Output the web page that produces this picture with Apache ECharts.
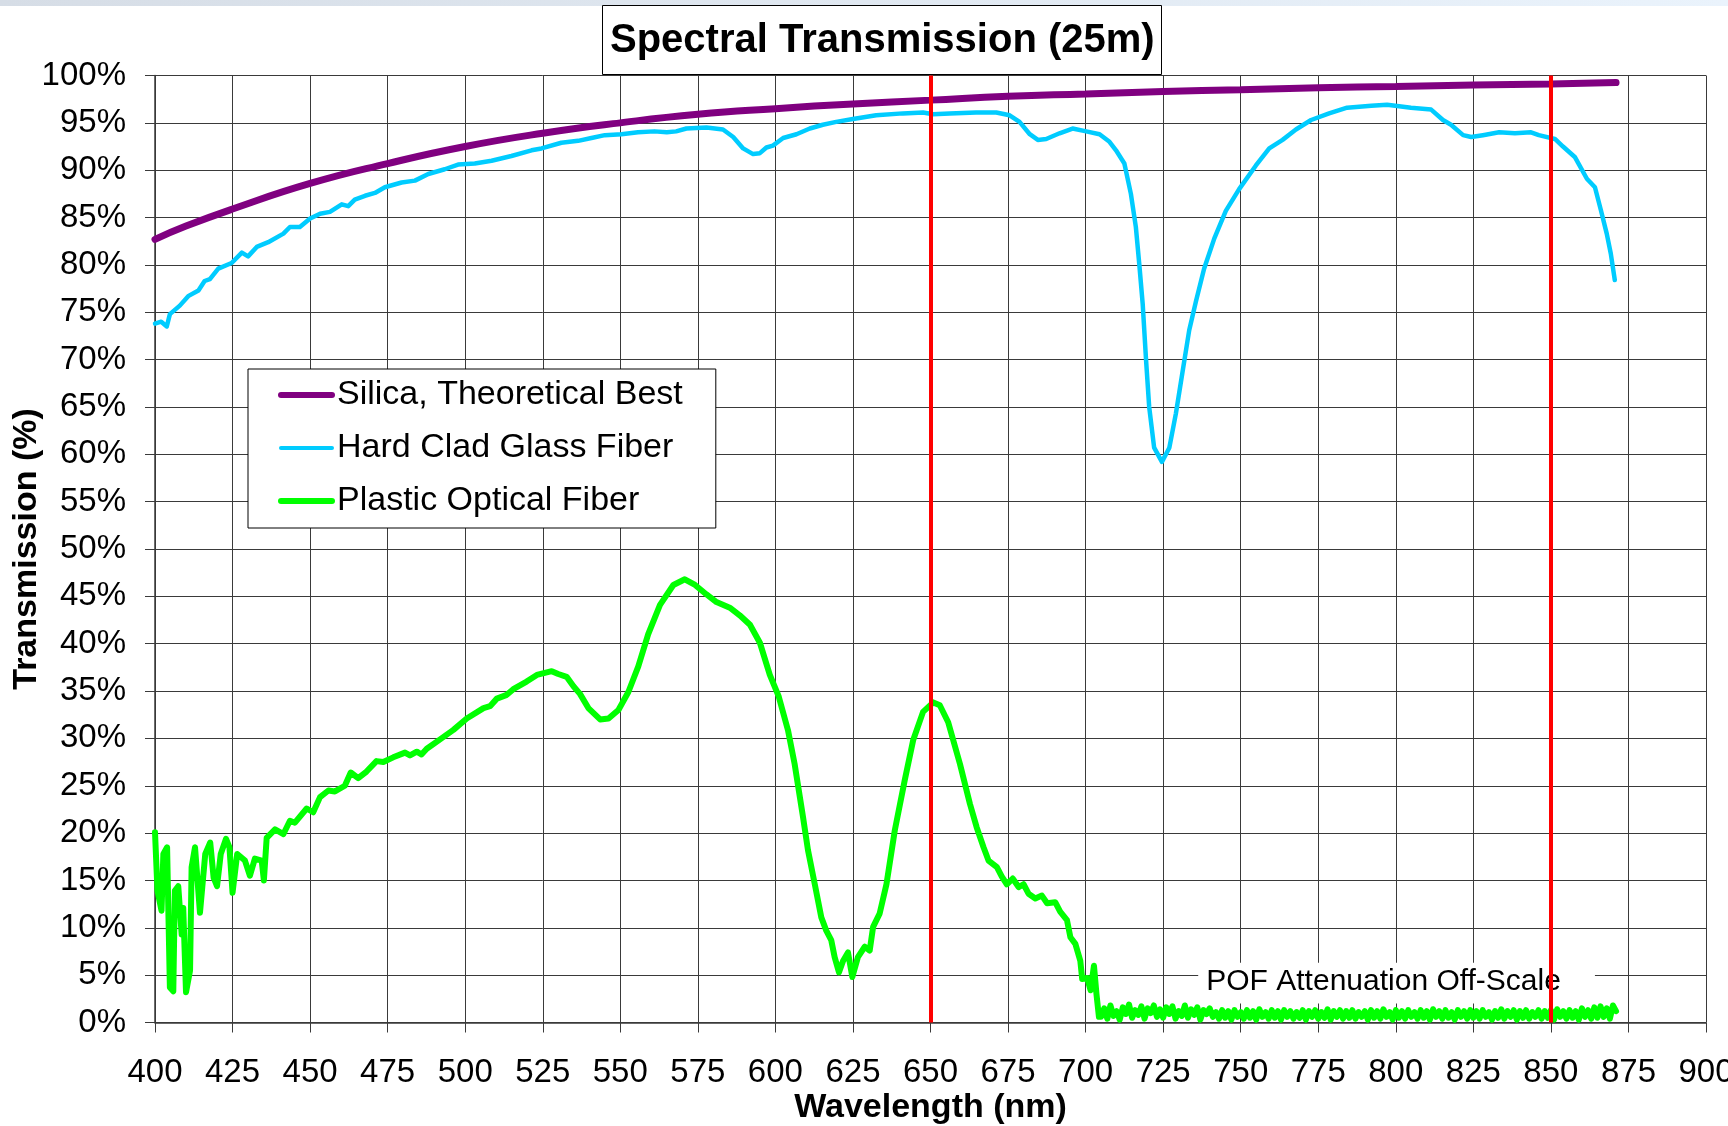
<!DOCTYPE html>
<html lang="en">

<head>
    <meta charset="UTF-8">
    <title>Spectral Transmission (25m)</title>
    <style>
        html, body { margin: 0; padding: 0; background: #fff; }
    </style>
</head>

<body>
    <div id="chart" style="width: 1728px;height:1126px;"></div>
    <script src="https://cdn.jsdelivr.net/npm/echarts@6/dist/echarts.min.js"></script>
    <script type="text/javascript">
       // wavelength (nm) / transmission (%)
       var silicaNm  = [400, 410, 425, 450, 475, 500, 525, 550, 575, 600, 625, 650, 675, 700, 725, 750, 775, 800, 825, 850, 871];
       var silicaPct = [82.7, 84.1, 85.9, 88.6, 90.7, 92.5, 93.9, 95.0, 95.9, 96.5, 97.0, 97.4, 97.8, 98.05, 98.3, 98.5, 98.7, 98.85, 99.0, 99.1, 99.25];

       var hcgNm  = [400, 402, 403.8, 404.8, 408, 410.7, 414, 416, 417.7, 420.4, 424.7, 428, 430, 432.8, 436.5, 441.4, 443.5, 446.7, 450, 453.2,
                     456.4, 460.2, 462.3, 464.4, 467.7, 470.9, 474.1, 479.5, 483.8, 488.1, 493.4, 497.7, 503.1, 508.5, 514.9, 521.4, 524.6, 531, 536.4, 540.7,
                     545, 550.4, 555.7, 561, 565, 568, 571.3, 577.8, 583.1, 586.4, 589.6, 592.8, 595, 597.1, 599.2, 602.5, 606.8, 611.1, 615.3, 619.6,
                     625, 632.5, 641.1, 647.6, 650.8, 656.2, 664.7, 671.2, 675.5, 678.7, 682, 684.6, 687.3, 691.6, 695.8, 700.2, 704.5, 707.7, 709.8, 712.5,
                     714.6, 716.2, 717.3, 718.4, 719.5, 720.5, 722.1, 724.6, 727, 729.1, 731.3, 733.4, 735.6, 738.2, 741.5, 745.2, 749.5, 754.9, 759.2, 763.5,
                     767.8, 772.7, 778.5, 784.3, 792.1, 797.2, 799.8, 804.9, 811.4, 815.2, 817.8, 821.7, 824.3, 828.1, 833.3, 838.4, 843.6, 846.1, 851.3, 853.9,
                     857.7, 861.6, 864.2, 866.1, 868, 869.3, 870.6];
       var hcgPct = [73.8, 74.0, 73.5, 74.8, 75.7, 76.7, 77.3, 78.3, 78.5, 79.6, 80.2, 81.3, 80.9, 81.9, 82.4, 83.3, 84.0, 84.0, 84.9, 85.4,
                     85.6, 86.4, 86.2, 86.9, 87.3, 87.6, 88.2, 88.7, 88.9, 89.6, 90.1, 90.6, 90.7, 91.0, 91.5, 92.1, 92.3, 92.9, 93.1, 93.4,
                     93.7, 93.8, 94.0, 94.1, 94.0, 94.1, 94.4, 94.5, 94.3, 93.5, 92.3, 91.7, 91.8, 92.4, 92.6, 93.4, 93.8, 94.4, 94.8, 95.1,
                     95.4, 95.8, 96.0, 96.1, 95.9, 96.0, 96.1, 96.1, 95.8, 95.1, 93.8, 93.2, 93.3, 93.9, 94.4, 94.1, 93.8, 93.0, 92.1, 90.7,
                     87.5, 84.0, 80.1, 75.9, 69.9, 65.0, 60.7, 59.2, 60.7, 64.3, 68.8, 73.1, 76.2, 79.6, 82.8, 85.7, 88.0, 90.5, 92.3, 93.2,
                     94.3, 95.3, 96.0, 96.6, 96.8, 96.9, 96.8, 96.6, 96.4, 95.3, 94.8, 93.7, 93.5, 93.7, 94.0, 93.9, 94.0, 93.7, 93.3, 92.5,
                     91.4, 89.1, 88.2, 85.8, 83.3, 81.2, 78.4];

       var pofNm  = [400, 400.8, 402.1, 402.7, 403.9, 404.8, 405.9, 406.4, 407.5, 408.6, 409.1, 410, 411.3, 411.8, 412.9, 414.5, 416.2, 417.8, 418.9, 420,
                     421.2, 422.9, 424, 425, 426.5, 429, 430.6, 432.2, 434.4, 435.1, 436, 438.7, 441.4, 443.5, 445.1, 448.9, 451, 453.2, 455.9, 458,
                     461.2, 463.1, 465.5, 468.2, 471.4, 473.6, 476.8, 480.6, 482.2, 484.4, 485.9, 487.6, 491.9, 496.2, 500.5, 505.9, 508, 510.2, 513.4, 515.5,
                     519.8, 523.1, 527.9, 530, 532.7, 534.9, 537, 539.7, 543.5, 546.2, 549.4, 552.6, 555.8, 559, 562.8, 567.1, 570.8, 574.1, 577.8, 581,
                     585.3, 588.5, 591.8, 595, 598.2, 601, 604.1, 606.2, 608.9, 610.5, 612.7, 614.8, 616.4, 618, 619.1, 620.5, 621.8, 623.4, 624.8, 626.6,
                     628.8, 630.4, 631.5, 633.6, 635.8, 638.5, 641.7, 644.4, 647.6, 650.9, 653, 655.7, 659.5, 662.7, 664.9, 667.1, 668.7, 671.4, 673, 674.6,
                     676.5, 678.4, 680, 681.6, 683.8, 685.9, 687.6, 690.2, 691.8, 694, 695.1, 696.7, 698.3, 698.9, 700.5, 701.6, 702.7, 703.5, 704.3];
       var pofPct = [20.1, 13.9, 11.8, 17.8, 18.5, 3.7, 3.3, 13.9, 14.4, 9.3, 12.1, 3.2, 5.5, 16.4, 18.5, 11.6, 17.8, 19.0, 15.3, 14.4,
                     17.8, 19.4, 18.5, 13.7, 17.8, 17.1, 15.5, 17.3, 17.1, 15.0, 19.5, 20.4, 19.9, 21.3, 21.1, 22.6, 22.2, 23.8, 24.5, 24.4,
                     25.0, 26.4, 25.8, 26.5, 27.6, 27.5, 28.0, 28.5, 28.2, 28.6, 28.3, 28.9, 29.9, 30.9, 32.1, 33.2, 33.4, 34.2, 34.6, 35.2,
                     36.0, 36.7, 37.1, 36.8, 36.5, 35.5, 34.7, 33.2, 32.0, 32.1, 33.0, 34.9, 37.6, 41.0, 44.1, 46.2, 46.8, 46.2, 45.2, 44.4,
                     43.8, 43.0, 42.0, 40.1, 36.7, 34.5, 30.8, 27.3, 21.7, 18.2, 14.6, 11.1, 9.7, 8.7, 6.9, 5.3, 6.5, 7.4, 4.8, 6.9,
                     8.0, 7.6, 10.1, 11.5, 14.6, 20.3, 25.6, 29.8, 32.8, 33.8, 33.5, 31.7, 27.3, 23.1, 20.6, 18.5, 17.1, 16.4, 15.4, 14.6,
                     15.2, 14.3, 14.6, 13.6, 13.1, 13.4, 12.6, 12.7, 11.7, 10.8, 9.0, 8.3, 6.5, 4.6, 4.7, 3.4, 6.0, 3.0, 0.6];
       // off-scale tail, one reading per nm from 705 to 871
       var pofTailStart = 705, pofTailStep = 1;
       var pofTail = [0.6, 1.5, 0.4, 1.8, 0.7, 1.2, 0.3, 1.6, 0.9, 1.9, 0.5, 1.3, 0.8, 1.7, 0.4, 1.5, 1.0, 1.8, 0.6, 1.4,
                      0.5, 1.6, 0.9, 1.7, 0.4, 1.2, 0.7, 1.8, 0.5, 1.4, 0.8, 1.6, 0.3, 1.3, 0.9, 1.5, 0.6, 1.1, 0.4, 1.3,
                      0.5, 1.2, 0.3, 1.3, 0.6, 1.1, 0.4, 1.3, 0.5, 1.2, 0.3, 1.4, 0.6, 1.1, 0.4, 1.3, 0.5, 1.2, 0.3, 1.3,
                      0.6, 1.2, 0.4, 1.1, 0.5, 1.3, 0.3, 1.2, 0.6, 1.3, 0.4, 1.1, 0.5, 1.4, 0.3, 1.2, 0.6, 1.3, 0.4, 1.2,
                      0.5, 1.3, 0.4, 1.1, 0.6, 1.2, 0.3, 1.3, 0.5, 1.2, 0.4, 1.4, 0.6, 1.1, 0.3, 1.3, 0.5, 1.2, 0.4, 1.3,
                      0.6, 1.1, 0.4, 1.3, 0.5, 1.2, 0.3, 1.4, 0.6, 1.2, 0.4, 1.3, 0.5, 1.1, 0.3, 1.3, 0.6, 1.2, 0.4, 1.3,
                      0.5, 1.2, 0.4, 1.3, 0.6, 1.1, 0.3, 1.2, 0.5, 1.4, 0.4, 1.2, 0.6, 1.3, 0.3, 1.2, 0.5, 1.3, 0.4, 1.1,
                      0.6, 1.3, 0.4, 1.2, 0.5, 1.3, 0.3, 1.4, 0.6, 1.2, 0.4, 1.3, 0.5, 1.2, 0.3, 1.5, 0.6, 1.3, 0.4, 1.6,
                      0.5, 1.7, 0.6, 1.5, 0.4, 1.8, 1.2];

       var markerNm = [650, 850];
       var seriesNames = ['Silica, Theoretical Best', 'Hard Clad Glass Fiber', 'Plastic Optical Fiber'];
       var seriesColors = ['#800080', '#00CCFF', '#00FF00'];

       function pairs(xs, ys) {
           var out = [];
           for (var i = 0; i < xs.length; i++) out.push([xs[i], ys[i]]);
           return out;
       }
       var pofData = pairs(pofNm, pofPct);
       for (var i = 0; i < pofTail.length; i++) {
           pofData.push([pofTailStart + pofTailStep * i, pofTail[i]]);
       }

       var FONT = "'Liberation Sans', Arial, sans-serif";
       var gridColor = '#3a3a3a';

       var myChart = echarts.init(document.getElementById('chart'));
       var option = {
           animation: false,
           backgroundColor: '#fff',
           title: {
               text: 'Spectral Transmission (25m)',
               left: 602,
               top: 5,
               padding: [15, 7, 14, 8],
               borderWidth: 1,
               borderColor: '#000',
               backgroundColor: '#fff',
               textStyle: { fontFamily: FONT, fontSize: 40, fontWeight: 'bold', color: '#000', lineHeight: 41 }
           },
           legend: {
               orient: 'vertical',
               left: 248,
               top: 369,
               padding: [9, 33, 10, 30],
               itemGap: 19,
               itemWidth: 51,
               itemHeight: 14,
               backgroundColor: '#fff',
               borderColor: '#000',
               borderWidth: 1,
               borderRadius: 0,
               itemStyle: { opacity: 0 },
               data: [
                   { name: seriesNames[0], lineStyle: { width: 6, cap: 'round' } },
                   { name: seriesNames[1], lineStyle: { width: 4, cap: 'round' } },
                   { name: seriesNames[2], lineStyle: { width: 6, cap: 'round' } }
               ],
               textStyle: { fontFamily: FONT, fontSize: 34, color: '#000' }
           },
           grid: { left: 155, right: 22, top: 75.5, bottom: 103.5, containLabel: false, outerBoundsMode: 'none' },
           xAxis: {
               type: 'value',
               min: 400,
               max: 900,
               interval: 25,
               name: 'Wavelength (nm)',
               nameLocation: 'middle',
               nameGap: 68,
               nameMoveOverlap: false,
               nameTextStyle: { fontFamily: FONT, fontSize: 34, fontWeight: 'bold', color: '#000' },
               axisLine: { lineStyle: { color: gridColor, width: 1.5 } },
               axisTick: { show: true, length: 10, lineStyle: { color: gridColor } },
               axisLabel: { margin: 34, fontFamily: FONT, fontSize: 33, color: '#000', showMaxLabel: true },
               splitLine: { show: true, lineStyle: { color: gridColor, width: 1 } }
           },
           yAxis: {
               type: 'value',
               min: 0,
               max: 100,
               interval: 5,
               name: 'Transmission (%)',
               nameLocation: 'middle',
               nameGap: 111,
               nameMoveOverlap: false,
               nameTextStyle: { fontFamily: FONT, fontSize: 34, fontWeight: 'bold', color: '#000' },
               axisLine: { show: true, lineStyle: { color: gridColor, width: 1.5 } },
               axisTick: { show: true, length: 10, lineStyle: { color: gridColor } },
               axisLabel: { margin: 29, fontFamily: FONT, fontSize: 33, color: '#000', formatter: '{value}%' },
               splitLine: { show: true, lineStyle: { color: gridColor, width: 1 } }
           },
           series: [
               {
                   name: seriesNames[0],
                   type: 'line',
                   smooth: true,
                   symbol: 'none',
                   lineStyle: { color: seriesColors[0], width: 7, cap: 'round' },
                   itemStyle: { color: seriesColors[0] },
                   emphasis: { disabled: true },
                   data: pairs(silicaNm, silicaPct)
               },
               {
                   name: seriesNames[1],
                   type: 'line',
                   symbol: 'none',
                   lineStyle: { color: seriesColors[1], width: 4.5, cap: 'round', join: 'round' },
                   itemStyle: { color: seriesColors[1] },
                   emphasis: { disabled: true },
                   data: pairs(hcgNm, hcgPct)
               },
               {
                   name: seriesNames[2],
                   type: 'line',
                   symbol: 'none',
                   lineStyle: { color: seriesColors[2], width: 6, cap: 'round', join: 'round' },
                   itemStyle: { color: seriesColors[2] },
                   emphasis: { disabled: true },
                   data: pofData
               },
               {
                   name: 'markers',
                   type: 'line',
                   data: [],
                   z: 10,
                   markLine: {
                       silent: true,
                       symbol: 'none',
                       label: { show: false },
                       lineStyle: { color: '#FF0000', width: 4, type: 'solid' },
                       data: markerNm.map(function (v) { return { xAxis: v }; })
                   }
               }
           ]
       };
       myChart.setOption(option);

       // annotation box under the off-scale POF readings
       var boxTL = myChart.convertToPixel({ gridIndex: 0 }, [736.3, 6.3]);
       var boxBR = myChart.convertToPixel({ gridIndex: 0 }, [864.2, 2.0]);
       var txt = myChart.convertToPixel({ gridIndex: 0 }, [738.9, 4.3]);
       myChart.setOption({
           graphic: [
               {
                   type: 'rect',
                   z: 1,
                   shape: { x: 0, y: 0, width: 1728, height: 6 },
                   style: {
                       fill: new echarts.graphic.LinearGradient(0, 0, 1, 0, [
                           { offset: 0, color: '#d6dde6' },
                           { offset: 1, color: '#eaf3fc' }
                       ])
                   },
                   silent: true
               },
               {
                   type: 'rect',
                   z: 1,
                   shape: { x: boxTL[0], y: boxTL[1], width: boxBR[0] - boxTL[0], height: boxBR[1] - boxTL[1] },
                   style: { fill: '#fff' },
                   silent: true
               },
               {
                   type: 'text',
                   z: 1,
                   x: txt[0],
                   y: txt[1],
                   style: {
                       text: 'POF Attenuation Off-Scale',
                       fontFamily: FONT,
                       fontSize: 30,
                       fill: '#000',
                       verticalAlign: 'middle',
                       align: 'left'
                   },
                   silent: true
               }
           ]
       });
    </script>
</body>

</html>
